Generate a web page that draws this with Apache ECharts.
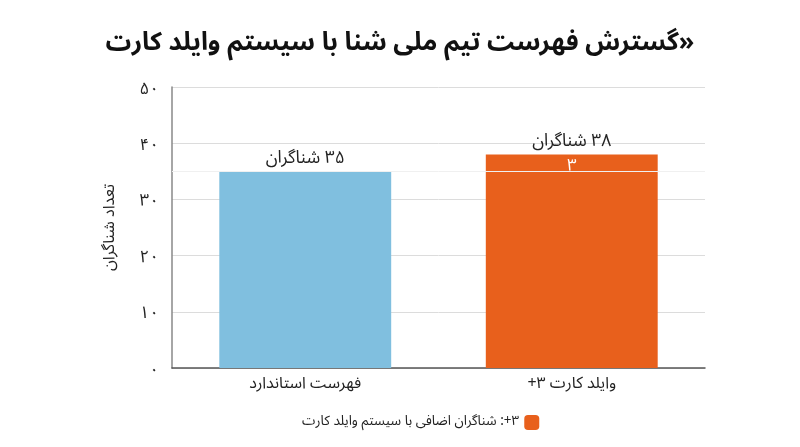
<!DOCTYPE html>
<html>
<head>
<meta charset="utf-8">
<script src="https://cdn.jsdelivr.net/npm/echarts@6/dist/echarts.min.js"></script>
<style>
  html, body { margin: 0; padding: 0; background: #fff; }
  #chart { width: 800px; height: 447px; direction: rtl; }
</style>
</head>
<body>
<div id="chart"></div>
<script>
var titleText = '«گسترش فهرست تیم ملی شنا با سیستم وایلد کارت';
var categories = ['فهرست استاندارد', 'وایلد کارت ۳+'];
var baseValues = [35, 35];
var extraValues = ['-', 3];
var totals = [35, 38];
var extraName = '۳+: شناگران اضافی با سیستم وایلد کارت';
var yName = 'تعداد شناگران';
var labelSuffix = ' شناگران';

var faDigits = '۰۱۲۳۴۵۶۷۸۹';
function toFa(n) {
    return String(n).replace(/[0-9]/g, function (d) { return faDigits[+d]; });
}

var font = "'Noto Sans Arabic', 'Vazirmatn', 'DejaVu Sans', sans-serif";
var blue = '#80bfdf';
var orange = '#e8601c';

var chart = echarts.init(document.getElementById('chart'));
var option = {
    backgroundColor: '#fff',
    textStyle: { fontFamily: font },
    title: {
        text: titleText,
        left: 'center',
        top: 28,
        textStyle: { fontSize: 25.5, fontWeight: 'bold', color: '#111', fontFamily: font }
    },
    legend: {
        data: [extraName],
        left: 290,
        top: 410,
        align: 'right',
        itemWidth: 15,
        itemHeight: 15,
        formatter: function (name) { return name + '\u00a0\u00a0'; },
        textStyle: { fontSize: 13.5, color: '#222', fontFamily: font }
    },
    grid: { left: 172, right: 95, top: 87, bottom: 79 },
    xAxis: {
        type: 'category',
        data: categories,
        axisTick: { show: false },
        axisLine: { lineStyle: { color: '#555', width: 1.5 } },
        axisLabel: { fontSize: 16, color: '#222', margin: 10, fontFamily: font }
    },
    yAxis: {
        type: 'value',
        min: 0,
        max: 50,
        interval: 10,
        name: yName,
        nameLocation: 'middle',
        nameGap: 52,
        nameRotate: 90,
        nameTextStyle: { fontSize: 16, color: '#222', fontFamily: font },
        axisLine: { show: true, lineStyle: { color: '#888', width: 1.5 } },
        axisTick: { show: false },
        axisLabel: {
            margin: 13,
            formatter: function (v) { return '{n|' + toFa(v) + '}'; },
            rich: {
                n: { fontSize: 17, color: '#222', fontFamily: font, padding: [8, 0, 0, 0] }
            }
        },
        splitLine: { lineStyle: { color: '#dcdcdc', width: 1 } }
    },
    series: [{
        name: 'base',
        type: 'bar',
        stack: 'total',
        barWidth: '64.5%',
        data: baseValues.map(function (v, i) {
            return { value: v, itemStyle: { color: i === 0 ? blue : orange } };
        }),
        markLine: {
            silent: true,
            symbol: 'none',
            label: { show: false },
            lineStyle: { color: '#f0f0f0', width: 1, type: 'solid' },
            data: [{ yAxis: baseValues[1] }]
        }
    }, {
        name: extraName,
        type: 'bar',
        stack: 'total',
        itemStyle: { color: orange },
        data: extraValues,
        label: {
            show: true,
            position: 'inside',
            offset: [0, 6],
            fontSize: 17,
            color: '#fff',
            formatter: function (p) { return toFa(p.value); }
        }
    }, {
        name: 'totals',
        type: 'bar',
        stack: 'total',
        silent: true,
        itemStyle: { color: 'transparent' },
        data: [0, 0],
        label: {
            show: true,
            position: 'top',
            distance: 2,
            fontSize: 17.5,
            color: '#222',
            formatter: function (p) { return toFa(totals[p.dataIndex]) + labelSuffix; }
        }
    }]
};
chart.setOption(option);
</script>
</body>
</html>
